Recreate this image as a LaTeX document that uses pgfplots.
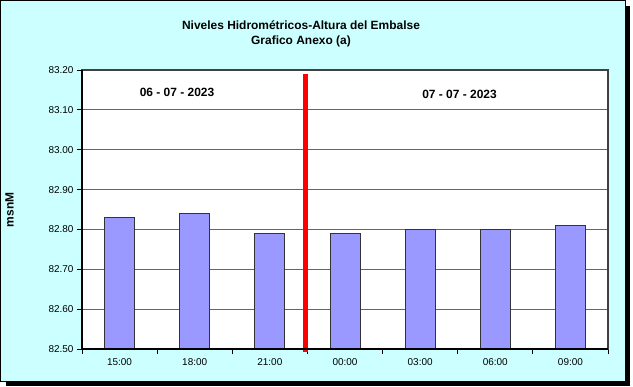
\documentclass[border=0pt]{standalone}
\usepackage{pgfplots}
\pgfplotsset{compat=1.18}
\usepackage{fontspec}
\setmainfont{Liberation Sans}
\definecolor{bgc}{HTML}{CCFFFF}
\definecolor{barc}{HTML}{9999FF}
\begin{document}
\begin{tikzpicture}
\path (0bp,0bp) rectangle (633bp,-387bp);
\fill[black] (6bp,-6bp) rectangle (630bp,-386bp);
\fill[bgc,draw=black,line width=1bp] (0.5bp,-0.5bp) rectangle (625.5bp,-381.5bp);
\begin{axis}[
  at={(82bp,-349bp)}, anchor=south west, scale only axis,
  width=526bp, height=279bp,
  xmin=-0.5, xmax=6.5, ymin=82.5, ymax=83.2,
  clip=false,
  axis background/.style={fill=white},
  axis line style={black!75, line width=1.3bp},
  xtick={0,1,2,3,4,5,6},
  xticklabels={15:00,18:00,21:00,00:00,03:00,06:00,09:00},
  minor xtick={-0.5,0.5,1.5,2.5,3.5,4.5,5.5,6.5},
  ytick={82.5,82.6,82.7,82.8,82.9,83.0,83.1,83.2},
  tick align=outside,
  major x tick style={draw=none},
  minor x tick style={black, line width=0.8bp},
  minor tick length=5bp,
  major tick length=5bp,
  y tick style={black, line width=0.8bp},
  xtick pos=bottom, ytick pos=left,
  ymajorgrids,
  major grid style={black!60, line width=1bp},
  yticklabel style={/pgf/number format/fixed, /pgf/number format/fixed zerofill, /pgf/number format/precision=2, /pgf/number format/assume math mode=true, font=\fontsize{10}{12}\selectfont},
  xticklabel style={font=\fontsize{10}{12}\selectfont, yshift=-1.5bp},
]
\addplot[ybar, bar width=30bp, fill=barc, draw=black!80, line width=0.8bp] coordinates {
 (0,82.83) (1,82.84) (2,82.79) (3,82.79) (4,82.80) (5,82.80) (6,82.81)};
\addplot[red, line width=5bp, no marks] coordinates {(2.48,82.4925) (2.48,83.19)};
\draw[black, line width=2bp] (rel axis cs:0,1) -- (rel axis cs:0,0) -- (rel axis cs:1,0);
\end{axis}
\node[font=\bfseries\fontsize{12}{14}\selectfont] at (301bp,-25bp) {Niveles Hidrométricos-Altura del Embalse};
\node[font=\bfseries\fontsize{12}{14}\selectfont] at (301bp,-41bp) {Grafico Anexo (a)};
\node[font=\bfseries\fontsize{12}{14}\selectfont] at (177bp,-92.5bp) {06 - 07 - 2023};
\node[font=\bfseries\fontsize{12}{14}\selectfont] at (459.5bp,-94.5bp) {07 - 07 - 2023};
\node[rotate=90, font=\bfseries\fontsize{12}{14}\selectfont] at (9.5bp,-210bp) {msnM};
\end{tikzpicture}
\end{document}
